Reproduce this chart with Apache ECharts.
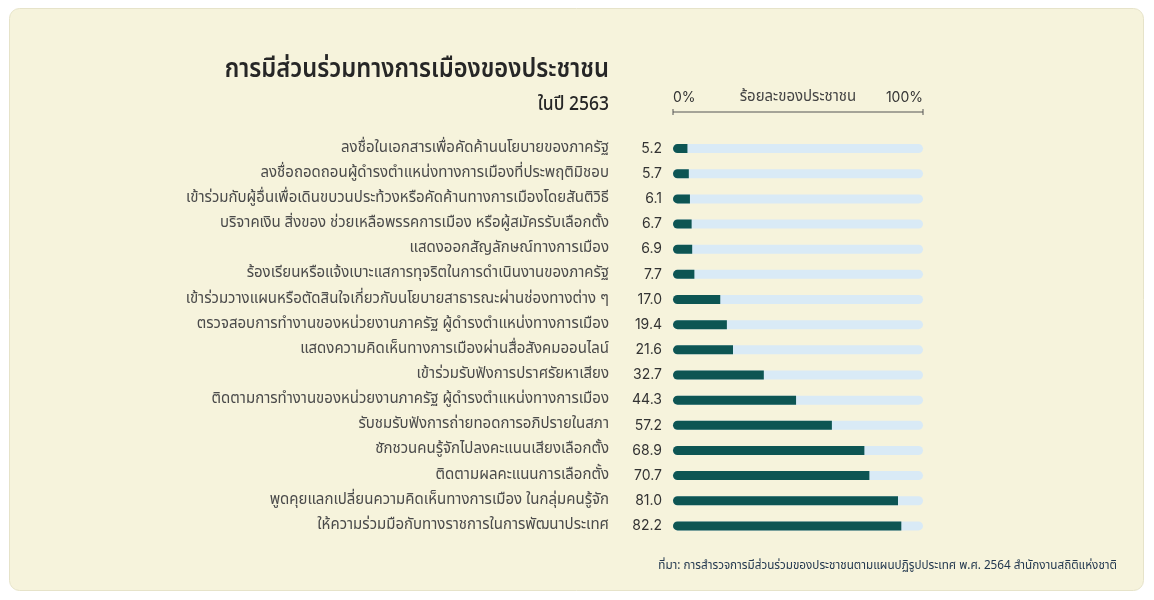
<!DOCTYPE html>
<html>
<head>
<meta charset="utf-8">
<script src="https://cdn.jsdelivr.net/npm/echarts@6/dist/echarts.min.js"></script>
<style>
  html, body { margin: 0; padding: 0; background: #ffffff; }
  #chart { width: 1154px; height: 600px; }
</style>
</head>
<body>
<div id="chart"></div>
<script>
// activities, top to bottom
const categories = [
    'ลงชื่อในเอกสารเพื่อคัดค้านนโยบายของภาครัฐ',
    'ลงชื่อถอดถอนผู้ดำรงตำแหน่งทางการเมืองที่ประพฤติมิชอบ',
    'เข้าร่วมกับผู้อื่นเพื่อเดินขบวนประท้วงหรือคัดค้านทางการเมืองโดยสันติวิธี',
    'บริจาคเงิน สิ่งของ ช่วยเหลือพรรคการเมือง หรือผู้สมัครรับเลือกตั้ง',
    'แสดงออกสัญลักษณ์ทางการเมือง',
    'ร้องเรียนหรือแจ้งเบาะแสการทุจริตในการดำเนินงานของภาครัฐ',
    'เข้าร่วมวางแผนหรือตัดสินใจเกี่ยวกับนโยบายสาธารณะผ่านช่องทางต่าง ๆ',
    'ตรวจสอบการทำงานของหน่วยงานภาครัฐ ผู้ดำรงตำแหน่งทางการเมือง',
    'แสดงความคิดเห็นทางการเมืองผ่านสื่อสังคมออนไลน์',
    'เข้าร่วมรับฟังการปราศรัยหาเสียง',
    'ติดตามการทำงานของหน่วยงานภาครัฐ ผู้ดำรงตำแหน่งทางการเมือง',
    'รับชมรับฟังการถ่ายทอดการอภิปรายในสภา',
    'ชักชวนคนรู้จักไปลงคะแนนเสียงเลือกตั้ง',
    'ติดตามผลคะแนนการเลือกตั้ง',
    'พูดคุยแลกเปลี่ยนความคิดเห็นทางการเมือง ในกลุ่มคนรู้จัก',
    'ให้ความร่วมมือกับทางราชการในการพัฒนาประเทศ'
];
const values = [5.2, 5.7, 6.1, 6.7, 6.9, 7.7, 17.0, 19.4, 21.6, 32.7, 44.3, 57.2, 68.9, 70.7, 81.0, 82.2];

const titleText = 'การมีส่วนร่วมทางการเมืองของประชาชน';
const subtitleText = 'ในปี 2563';
const axisLabels = ['0%', 'ร้อยละของประชาชน', '100%'];
const sourceText = 'ที่มา: การสำรวจการมีส่วนร่วมของประชาชนตามแผนปฏิรูปประเทศ พ.ศ. 2564 สำนักงานสถิติแห่งชาติ';

const thaiFont = '"Noto Sans Thai", "Noto Sans", "DejaVu Sans", sans-serif';
const barColor = '#0d5553';
const trackColor = '#d9eaf6';

const chart = echarts.init(document.getElementById('chart'));

// header scale sits over the track (673..923)
const scaleLeft = 673, scaleRight = 923, scaleY = 112;

chart.setOption({
    animation: false,
    grid: { left: scaleLeft, right: 1154 - scaleRight, top: 136, height: 402.5, containLabel: false },
    xAxis: {
        type: 'value', min: 0, max: 90,
        show: false
    },
    yAxis: {
        type: 'category',
        data: categories,
        inverse: true,
        axisLine: { show: false },
        axisTick: { show: false },
        axisLabel: {
            margin: 64,
            fontSize: 15,
            color: '#4a4a4a',
            fontFamily: thaiFont
        }
    },
    series: [{
        type: 'bar',
        data: values,
        barWidth: 9,
        itemStyle: { color: barColor, borderRadius: [4.5, 0, 0, 4.5] },
        showBackground: true,
        backgroundStyle: { color: trackColor, borderRadius: 4.5 },
        label: {
            show: true,
            position: 'left',
            distance: 11,
            formatter: p => p.value.toFixed(1),
            fontSize: 14,
            color: '#333333',
            fontFamily: 'Inter, "Noto Sans", sans-serif'
        }
    }],
    graphic: [
        {
            type: 'rect', z: -10, silent: true,
            shape: { x: 9.5, y: 8.5, width: 1134, height: 582, r: 10 },
            style: { fill: '#f6f3dc', stroke: '#e6e3c9', lineWidth: 1 }
        },
        {
            type: 'text', x: 609, y: 72, scaleX: 0.91,
            style: {
                text: titleText, font: '600 26px ' + thaiFont,
                fill: '#262626', textAlign: 'right', textVerticalAlign: 'middle'
            }
        },
        {
            type: 'text', x: 609, y: 106, scaleX: 0.92,
            style: {
                text: subtitleText, font: '500 19px ' + thaiFont,
                fill: '#262626', textAlign: 'right', textVerticalAlign: 'middle'
            }
        },
        {
            type: 'text', x: scaleLeft, y: 98,
            style: { text: axisLabels[0], font: '14px Inter, sans-serif', fill: '#333', textAlign: 'left', textVerticalAlign: 'middle' }
        },
        {
            type: 'text', x: 798, y: 98,
            style: { text: axisLabels[1], font: '15px ' + thaiFont, fill: '#444', textAlign: 'center', textVerticalAlign: 'middle' }
        },
        {
            type: 'text', x: scaleRight, y: 98,
            style: { text: axisLabels[2], font: '14px Inter, sans-serif', fill: '#333', textAlign: 'right', textVerticalAlign: 'middle' }
        },
        {
            type: 'line', shape: { x1: scaleLeft, y1: scaleY, x2: scaleRight, y2: scaleY },
            style: { stroke: '#555', lineWidth: 1 }
        },
        {
            type: 'line', shape: { x1: scaleLeft, y1: scaleY - 3, x2: scaleLeft, y2: scaleY + 3 },
            style: { stroke: '#555', lineWidth: 1 }
        },
        {
            type: 'line', shape: { x1: scaleRight, y1: scaleY - 3, x2: scaleRight, y2: scaleY + 3 },
            style: { stroke: '#555', lineWidth: 1 }
        },
        {
            type: 'text', x: 1117, y: 567,
            style: { text: sourceText, font: '11.7px ' + thaiFont, fill: '#23384f', textAlign: 'right', textVerticalAlign: 'middle' }
        }
    ]
});
</script>
</body>
</html>
